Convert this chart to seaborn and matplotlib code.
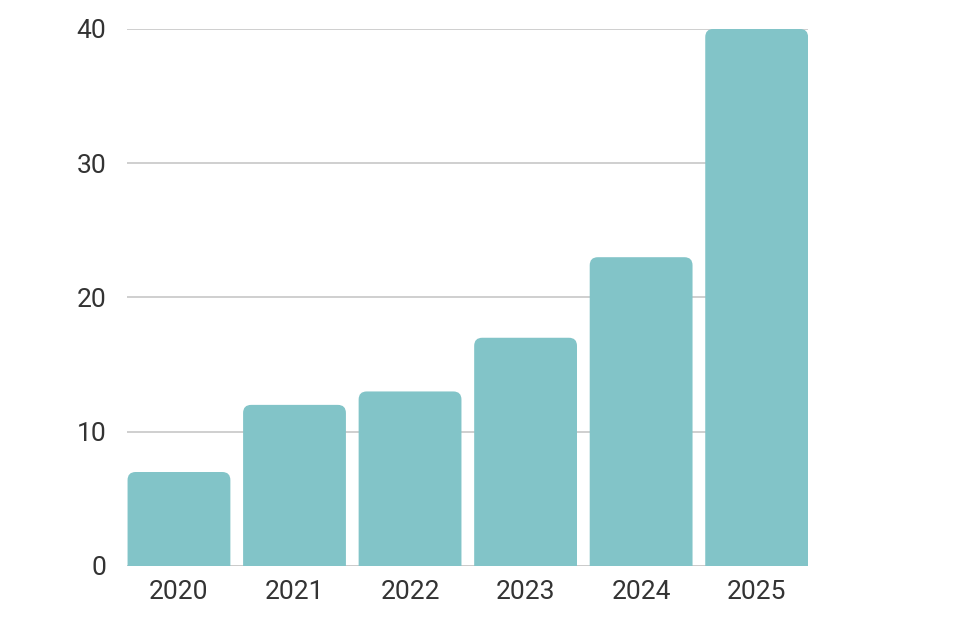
import matplotlib
matplotlib.use("Agg")
import matplotlib.pyplot as plt
import seaborn as sns
import pandas as pd
from matplotlib.patches import FancyBboxPatch

years = ["2020", "2021", "2022", "2023", "2024", "2025"]
values = [7, 12, 13, 17, 23, 40]
yticks = [0, 10, 20, 30, 40]

sns.set_theme(style="white")
plt.rcParams['font.family'] = ['Roboto', 'DejaVu Sans']

df = pd.DataFrame({"year": years, "value": values})
fig = plt.figure(figsize=(9.73, 6.37), dpi=100)
ax = fig.add_axes([0.1305, 0.1115, 0.700, 0.843])
sns.barplot(data=df, x="year", y="value", color="#82C4C8", saturation=1,
            width=0.89, ax=ax, zorder=3)

ax.set_xlim(-0.45, 5.445)
ax.set_ylim(0, 40)

# rounded top corners (bottom pushed below the axis and clipped)
aspect = (40 / (0.843 * 637)) / (5.895 / (0.700 * 973))
for p in list(ax.patches):
    x, y = p.get_x(), p.get_y()
    w, h = p.get_width(), p.get_height()
    fc = p.get_facecolor()
    p.set_visible(False)
    fb = FancyBboxPatch((x, y - 3), w, h + 3, boxstyle="round,pad=0,rounding_size=0.07",
                        mutation_aspect=aspect, facecolor=fc, edgecolor="none",
                        zorder=3, clip_on=True)
    ax.add_patch(fb)
    fb.set_clip_path(ax.patch)

ax.set_yticks(yticks)
ax.set_yticklabels([str(t) for t in yticks])
ax.yaxis.grid(True, color="#cccccc", linewidth=1.3, zorder=0)
ax.set_axisbelow(True)
for s in ax.spines.values():
    s.set_visible(False)
ax.axhline(0, color="#bbbbbb", linewidth=1, zorder=1)
ax.set_xlabel("")
ax.set_ylabel("")
ax.tick_params(axis="both", length=0, labelsize=19, labelcolor="#333333")
ax.tick_params(axis="y", pad=15)
ax.tick_params(axis="x", pad=10)

fig.savefig("out.png", dpi=100, facecolor="white")
